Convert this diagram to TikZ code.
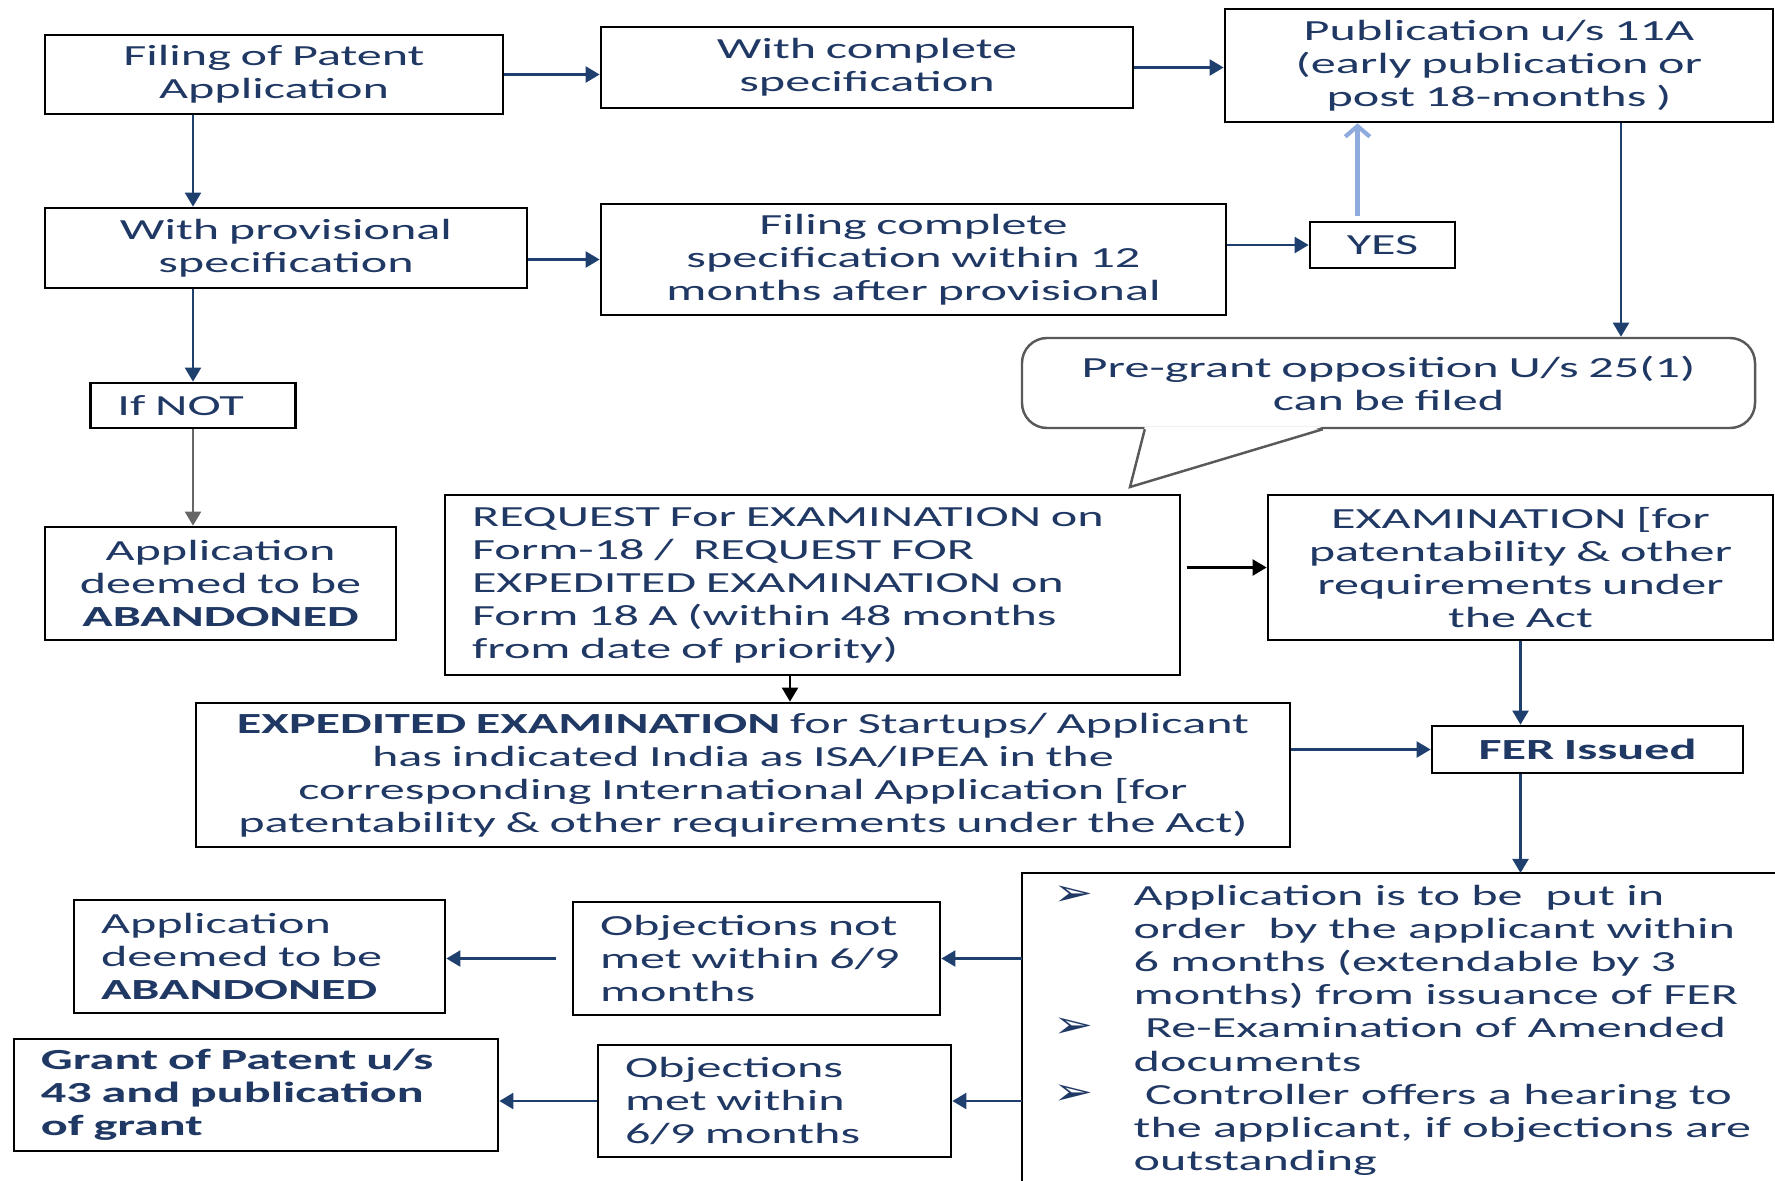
\documentclass[tikz,border=0pt]{standalone}
\usepackage{fontspec}
\setmainfont{Carlito}[FakeStretch=1.72]
\newfontfamily\symfont{DejaVu Sans}[FakeStretch=1.3]
\usetikzlibrary{arrows.meta}

\definecolor{navy}{RGB}{32,56,100}
\definecolor{arrowblue}{RGB}{31,64,110}
\definecolor{lightblue}{RGB}{143,170,220}

\tikzset{
  box/.style={draw, line width=0.75pt, text=navy, font=\fontsize{8.3}{9.4}\selectfont, inner xsep=0.1cm, inner ysep=0.04cm},
  cbox/.style={box, align=center},
  lbox/.style={box, align=left, inner xsep=0.27cm},
  arr/.style={draw=arrowblue, line width=0.8pt, -{Triangle[length=4pt,width=4.5pt]}},
  blackarr/.style={arr, draw=black},
  grayarr/.style={arr, draw=black!60},
  lightarr/.style={draw=lightblue, line width=1.2pt, -{Straight Barb[length=3pt,width=7pt]}},
}
\newcommand{\bulmark}{{\symfont\fontsize{10.5}{9.4}\selectfont ➢}}

\begin{document}
\begin{tikzpicture}
\useasboundingbox (0,0) rectangle (17.75,-11.80);

% top rows
\node[cbox, minimum width=4.58cm, minimum height=0.79cm, text width=4.38cm] (fil) at (2.74,-0.745) {Filing of Patent\\Application};
\node[cbox, minimum width=5.32cm, minimum height=0.81cm, text width=5.12cm] (comp) at (8.67,-0.675) {With complete\\specification};
\node[cbox, minimum width=5.48cm, minimum height=1.13cm, text width=5.28cm] (pub) at (14.99,-0.655) {Publication u/s 11A\\(early publication or\\post 18-months )};
\node[cbox, minimum width=4.82cm, minimum height=0.80cm, text width=4.62cm] (prov) at (2.86,-2.48) {With provisional\\specification};
\node[cbox, minimum width=6.25cm, minimum height=1.11cm, text width=6.05cm] (fcs) at (9.135,-2.595) {Filing complete\\specification within 12\\months after provisional};
\node[cbox, minimum width=1.45cm, minimum height=0.46cm, text width=1.25cm] (yes) at (13.825,-2.45) {YES};
\node[lbox, minimum width=2.05cm, minimum height=0.45cm, text width=1.51cm] (ifnot) at (1.93,-4.055) {If NOT};
\node[cbox, minimum width=3.51cm, minimum height=1.13cm, text width=3.31cm] (aband1) at (2.205,-5.835) {Application\\deemed to be\\\textbf{ABANDONED}};

% callout
\node[cbox, draw=black!65, line width=0.7pt, rounded corners=0.25cm, minimum width=7.33cm, minimum height=0.90cm, text width=7.13cm] (opp) at (13.885,-3.83) {Pre-grant opposition U/s 25(1)\\can be filed};
\coordinate (tip) at (11.30,-4.87);
\fill[white] ([xshift=1.24cm,yshift=0.025cm]opp.south west) -- ([xshift=3.02cm,yshift=0.025cm]opp.south west) -- (tip) -- cycle;
\draw[black!65, line width=0.7pt] ([xshift=1.24cm]opp.south west) -- (tip) -- ([xshift=3.02cm]opp.south west);

% examination
\node[lbox, minimum width=7.35cm, minimum height=1.80cm, text width=6.81cm] (req) at (8.125,-5.85) {REQUEST For EXAMINATION on\\Form-18 / \ REQUEST FOR\\EXPEDITED EXAMINATION on\\Form 18 A (within 48 months\\from date of priority)};
\node[cbox, minimum width=5.05cm, minimum height=1.45cm, text width=4.85cm] (exam) at (15.205,-5.675) {EXAMINATION [for\\patentability \& other\\requirements under\\the Act};
\node[cbox, minimum width=10.94cm, minimum height=1.44cm, text width=10.74cm] (expd) at (7.43,-7.75) {\textbf{EXPEDITED EXAMINATION} for Startups/ Applicant\\has indicated India as ISA/IPEA in the\\corresponding International Application [for\\patentability \& other requirements under the Act)};
\node[cbox, minimum width=3.11cm, minimum height=0.47cm, text width=2.91cm] (fer) at (15.875,-7.495) {\textbf{FER Issued}};

% outcome
\node[anchor=north west, text=navy, font=\fontsize{8.3}{9.4}\selectfont, inner xsep=0.31cm, inner ysep=0.09cm] (bul) at (10.22,-8.73) {%
\begin{tabular}{@{}p{0.8cm}@{}l@{}}
\bulmark & Application is to be \ put in\\
 & order \ by the applicant within\\
 & 6 months (extendable by 3\\
 & months) from issuance of FER\\
\bulmark & \ Re-Examination of Amended\\
 & documents\\
\bulmark & \ Controller offers a hearing to\\
 & the applicant, if objections are\\
 & outstanding
\end{tabular}};
\draw[line width=0.75pt] ([yshift=-0.4cm]bul.south west) |- ([xshift=0.5cm]bul.north east);

\node[lbox, minimum width=3.71cm, minimum height=1.13cm, text width=3.17cm] (aband2) at (2.595,-9.565) {Application\\deemed to be\\\textbf{ABANDONED}};
\node[lbox, minimum width=3.67cm, minimum height=1.13cm, text width=3.13cm] (notmet) at (7.565,-9.585) {Objections not\\met within 6/9\\months};
\node[lbox, minimum width=4.84cm, minimum height=1.12cm, text width=4.30cm] (grant) at (2.56,-10.95) {\textbf{Grant of Patent u/s}\\\textbf{43 and publication}\\\textbf{of grant}};
\node[lbox, minimum width=3.53cm, minimum height=1.12cm, text width=2.99cm] (met) at (7.745,-11.01) {Objections\\met within\\6/9 months};

% connectors
\draw[arr] (fil.east) -- (fil.east -| comp.west);
\draw[arr] (comp.east) -- (comp.east -| pub.west);
\draw[arr] (fil.south -| ifnot) -- (prov.north -| ifnot);
\draw[arr] (fcs.west -| prov.east) -- (fcs.west);
\draw[arr] (yes.west -| fcs.east) -- (yes.west);
\coordinate (yesup) at ([xshift=-0.25cm,yshift=0.05cm]yes.north);
\draw[lightarr] (yesup) -- (yesup |- pub.south);
\coordinate (pubdown) at (16.21,0);
\draw[arr] (pub.south -| pubdown) -- (opp.north -| pubdown);
\draw[arr] (prov.south -| ifnot) -- (ifnot.north);
\draw[grayarr] (ifnot.south) -- (aband1.north -| ifnot);
\draw[blackarr, shorten <=1.5pt] (req.east |- exam.west) -- (exam.west);
\coordinate (reqdown) at (7.90,0);
\draw[blackarr] (req.south -| reqdown) -- (expd.north -| reqdown);
\draw[arr] (exam.south) -- (exam.south |- fer.north);
\draw[arr] (expd.east |- fer.west) -- (fer.west);
\draw[arr] (fer.south -| exam) -- (bul.north -| exam);
\draw[arr] (notmet.east -| bul.west) -- (notmet.east);
\draw[arr, shorten <=0.16cm] (notmet.west) -- (notmet.west -| aband2.east);
\draw[arr] (met.east -| bul.west) -- (met.east);
\draw[arr] (met.west) -- (met.west -| grant.east);
\end{tikzpicture}
\end{document}
